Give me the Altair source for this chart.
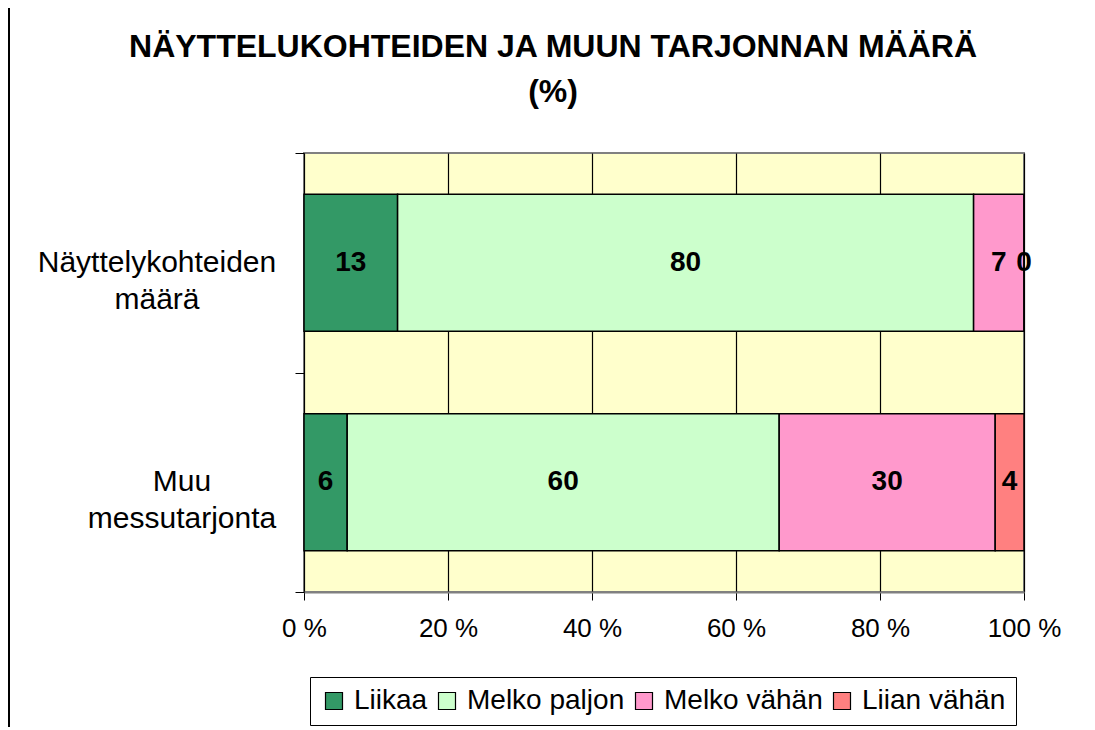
import altair as alt
import pandas as pd

title_lines = ["NÄYTTELUKOHTEIDEN JA MUUN TARJONNAN MÄÄRÄ", "(%)"]
categories = ["Näyttelykohteiden\nmäärä", "Muu\nmessutarjonta"]
responses = ["Liikaa", "Melko paljon", "Melko vähän", "Liian vähän"]
colors = ["#339966", "#CCFFCC", "#FF99CC", "#FF8080"]
values_row1 = [13, 80, 7, 0]
values_row2 = [6, 60, 30, 4]
x_ticks = [0, 20, 40, 60, 80, 100]

rows = []
for cat, vals in zip(categories, [values_row1, values_row2]):
    for i, (r, v) in enumerate(zip(responses, vals)):
        rows.append({"category": cat, "response": r, "order": i, "value": v})
df = pd.DataFrame(rows)
cat_df = pd.DataFrame({"category": categories})

FONT = "Liberation Sans"

base = alt.Chart(df).transform_window(
    cum="sum(value)",
    groupby=["category"],
    sort=[alt.SortField("order")],
    frame=[None, 0],
).transform_calculate(
    start="datum.cum - datum.value",
    mid="datum.cum - datum.value / 2",
)

yscale = alt.Scale(domain=categories, paddingInner=0, paddingOuter=0)

yenc = alt.Y(
    "category:N",
    sort=categories,
    scale=yscale,
    axis=alt.Axis(
        title=None,
        labels=False,
        tickBand="extent",
        tickSize=9,
        tickColor="black",
        domain=False,
    ),
)

bars = base.mark_bar(size=137, stroke="black", strokeWidth=1.5).encode(
    x=alt.X(
        "start:Q",
        scale=alt.Scale(domain=[0, 100], nice=False),
        axis=alt.Axis(
            title=None,
            values=x_ticks,
            labelExpr="datum.value + ' %'",
            labelFontSize=26,
            labelFont=FONT,
            labelColor="black",
            labelPadding=15,
            labelFlush=False,
            tickSize=8,
            tickColor="black",
            grid=True,
            gridColor="black",
            gridWidth=1.2,
            domainColor="#808080",
            domainWidth=2,
        ),
    ),
    x2="cum:Q",
    y=yenc,
    color=alt.Color(
        "response:N",
        sort=responses,
        scale=alt.Scale(domain=responses, range=colors),
        legend=alt.Legend(
            title=None,
            orient="none",
            legendX=6,
            legendY=524,
            direction="horizontal",
            strokeColor="black",
            padding=10,
            symbolType="square",
            symbolSize=289,
            symbolStrokeColor="black",
            symbolStrokeWidth=1.2,
            labelFontSize=28,
            labelFont=FONT,
            labelColor="black",
            labelOffset=6,
            columnPadding=5,
        ),
    ),
)

labels = base.mark_text(fontWeight="bold", fontSize=28, font=FONT, color="black").encode(
    x="mid:Q",
    y=alt.Y("category:N", sort=categories, scale=yscale),
    text="value:Q",
)

def cat_label(cat, xpos):
    return alt.Chart(cat_df).transform_filter(
        alt.datum.category == cat
    ).mark_text(
        fontSize=30, font=FONT, color="black", align="center", baseline="middle",
        lineBreak="\n", lineHeight=37,
    ).encode(
        x=alt.value(xpos),
        y=alt.Y("category:N", sort=categories, scale=yscale),
        text="category:N",
    )

ylab1 = cat_label(categories[0], -147)
ylab2 = cat_label(categories[1], -122)

title = alt.Chart(pd.DataFrame({"t": [0]})).mark_text(
    fontSize=32, fontWeight="bold", font=FONT, color="black",
    align="center", baseline="alphabetic", lineHeight=45, lineBreak="\n",
).encode(
    x=alt.value(249), y=alt.value(-96), text=alt.value("\n".join(title_lines))
)

frame_left = alt.Chart(pd.DataFrame({"t": [0]})).mark_rule(color="black", strokeWidth=2).encode(
    x=alt.value(-295), y=alt.value(-145), y2=alt.value(580)
)

chart = alt.layer(bars, labels, ylab1, ylab2, title, frame_left).properties(
    width=720,
    height=439,
    autosize=alt.AutoSizeParams(type="none"),
    padding={"left": 296, "top": 145, "right": 63, "bottom": 135},
).configure_view(
    fill="#FFFFCC", stroke="#808080", strokeWidth=2
)

chart.save("out.html", embed_options={"renderer": "svg", "actions": False})
